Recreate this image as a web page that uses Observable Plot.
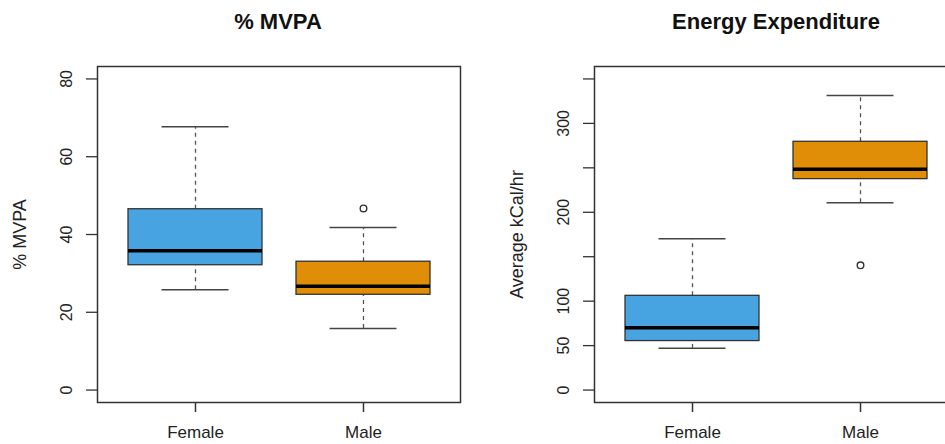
<!DOCTYPE html>
<html>
<head>
<meta charset="utf-8">
<script src="https://cdn.jsdelivr.net/npm/d3@7"></script>
<script src="https://cdn.jsdelivr.net/npm/@observablehq/plot@0.6"></script>
<style>
  html, body { margin: 0; padding: 0; background: #fff; overflow: hidden; }
  #wrap { position: relative; width: 945px; height: 444px; overflow: hidden; font-family: "Liberation Sans", Arial, Helvetica, sans-serif; }
  .title { position: absolute; top: 9px; font-weight: bold; font-size: 22px; color: #111; transform: translateX(-50%); white-space: nowrap; z-index: 2; }
  .panel { position: absolute; top: 0; z-index: 1; }
  .panel svg { max-width: none !important; display: block; }
</style>
</head>
<body>
<div id="wrap">
  <div class="panel" id="p1" style="left:0px; width:472px"></div>
  <div class="panel" id="p2" style="left:497px; width:480px"></div>
  <div class="title" style="left:278px">% MVPA</div>
  <div class="title" style="left:776px">Energy Expenditure</div>
</div>
<script>
// Categories
const groups = ["Female", "Male"];
const colors = ["#48a3e1", "#e08d08"];

// % MVPA summary
const mvpaLow    = [25.8, 15.8];
const mvpaQ1     = [32.1, 24.5];
const mvpaMedian = [35.8, 26.7];
const mvpaQ3     = [46.5, 33.0];
const mvpaHigh   = [67.7, 41.8];
const mvpaOutliers = [{group: "Male", value: 46.7}];
const mvpaTicks = [0, 20, 40, 60, 80];
const mvpaTickLabels = ["0", "20", "40", "60", "80"];

// Energy expenditure summary (Average kCal/hr)
const eeLow    = [46.9, 210.7];
const eeQ1     = [55.1, 237.3];
const eeMedian = [70.0, 248.3];
const eeQ3     = [106.0, 279.3];
const eeHigh   = [170.2, 331.5];
const eeOutliers = [{group: "Male", value: 140.3}];
const eeTicks = [0, 50, 100, 150, 200, 250, 300, 350];
const eeTickLabels = ["0", "50", "100", "", "200", "", "300", ""];

function panel({low, q1, median, q3, high, outliers, ticks, tickLabels, yDomain, yLabel, width}) {
  const rows = groups.map((g, i) => ({group: g, low: low[i], q1: q1[i], median: median[i], q3: q3[i], high: high[i], color: colors[i]}));
  const fmt = new Map(ticks.map((t, i) => [t, tickLabels[i]]));
  return Plot.plot({
    width,
    height: 444,
    marginLeft: 97,
    marginRight: width - 97 - 363,
    marginTop: 66,
    marginBottom: 42,
    style: {fontFamily: '"Liberation Sans", Arial, Helvetica, sans-serif', fontSize: "16px", color: "#222", background: "transparent", overflow: "visible"},
    x: {type: "band", domain: groups, paddingInner: 0.2024, paddingOuter: 0.1815, align: 0.5, axis: null},
    y: {domain: yDomain, axis: null},
    marks: [
      // whiskers (dashed)
      Plot.ruleX(rows, {x: "group", y1: "q3", y2: "high", stroke: "#555", strokeWidth: 1.3, strokeDasharray: "4,4"}),
      Plot.ruleX(rows, {x: "group", y1: "low", y2: "q1", stroke: "#555", strokeWidth: 1.3, strokeDasharray: "4,4"}),
      // whisker caps
      Plot.tickY(rows, {x: "group", y: "high", stroke: "#444", strokeWidth: 1.5, insetLeft: 33.5, insetRight: 33.5}),
      Plot.tickY(rows, {x: "group", y: "low", stroke: "#444", strokeWidth: 1.5, insetLeft: 33.5, insetRight: 33.5}),
      // boxes
      Plot.rectY(rows, {x: "group", y1: "q1", y2: "q3", fill: "color", stroke: "#333", strokeWidth: 1.3}),
      // medians
      Plot.tickY(rows, {x: "group", y: "median", stroke: "#000", strokeWidth: 3.5}),
      // outliers
      Plot.dot(outliers, {x: "group", y: "value", r: 3.3, stroke: "#333", strokeWidth: 1.4, fill: "white"}),
      // frame
      Plot.frame({stroke: "#333", strokeWidth: 1.5}),
      // y axis
      Plot.axisY(ticks, {anchor: "left", tickSize: 11, tickPadding: 15, stroke: "#333", strokeWidth: 1.3,
        tickFormat: (d) => fmt.get(d), tickRotate: -90, fontSize: 16, fill: "#222", label: null}),
      // y axis title
      Plot.text([yLabel], {frameAnchor: "left", textAnchor: "middle", dx: -77, rotate: -90, fontSize: 18, fill: "#222", text: (d) => d}),
      // x axis
      Plot.axisX(groups, {anchor: "bottom", tickSize: 10, tickPadding: 13, stroke: "#333", strokeWidth: 1.5, fontSize: 17, fill: "#222", label: null})
    ]
  });
}

document.getElementById("p1").appendChild(panel({
  low: mvpaLow, q1: mvpaQ1, median: mvpaMedian, q3: mvpaQ3, high: mvpaHigh, outliers: mvpaOutliers,
  ticks: mvpaTicks, tickLabels: mvpaTickLabels, yDomain: [-3.2, 83.2], yLabel: "% MVPA", width: 472
}));
document.getElementById("p2").appendChild(panel({
  low: eeLow, q1: eeQ1, median: eeMedian, q3: eeQ3, high: eeHigh, outliers: eeOutliers,
  ticks: eeTicks, tickLabels: eeTickLabels, yDomain: [-14, 364], yLabel: "Average kCal/hr", width: 480
}));
</script>
</body>
</html>
